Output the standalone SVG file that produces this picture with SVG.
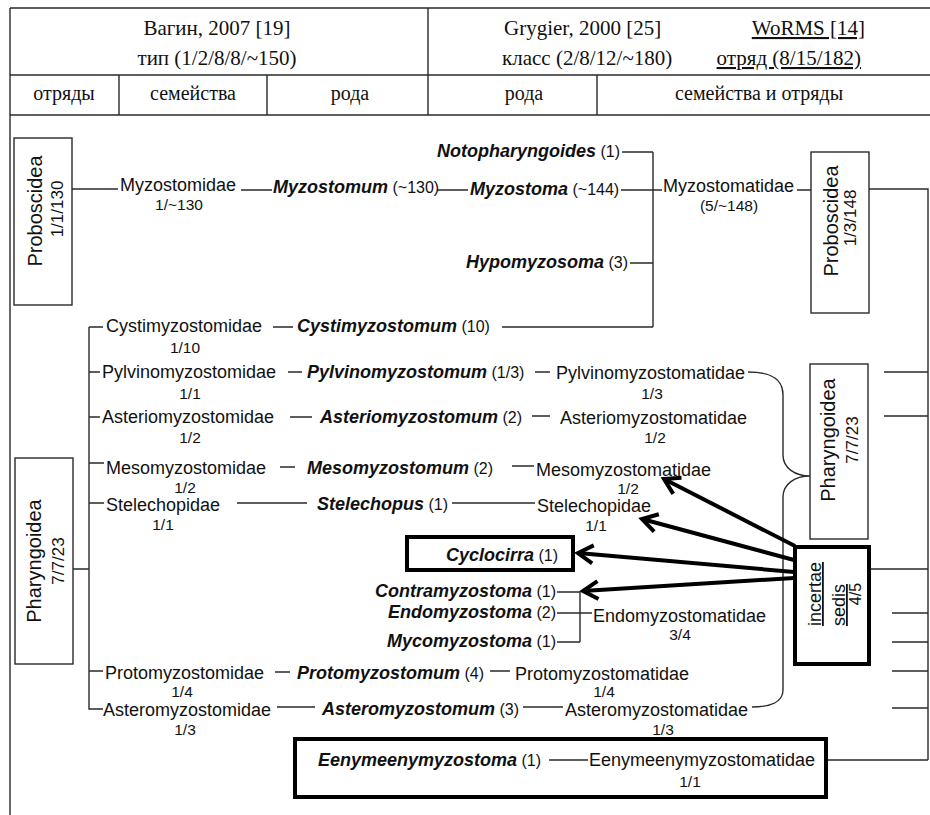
<svg xmlns="http://www.w3.org/2000/svg" width="930" height="815" viewBox="0 0 930 815">
<defs>
<style>
.hd{font-family:"Liberation Serif","Times New Roman",serif;font-size:20px;fill:#111;text-anchor:middle}
.h1{font-size:21px}
.t{font-family:"Liberation Sans",Arial,sans-serif;font-size:18px;fill:#111}
.g{font-weight:bold;font-style:italic}
.c{font-weight:normal;font-style:normal;font-size:16px}
.s{font-family:"Liberation Sans",Arial,sans-serif;font-size:15.5px;fill:#111;text-anchor:middle}
.r{font-family:"Liberation Sans",Arial,sans-serif;font-size:20px;fill:#111;text-anchor:middle}
.r2{font-family:"Liberation Sans",Arial,sans-serif;font-size:17px;fill:#111;text-anchor:middle}
.ln{stroke:#2a2a2a;stroke-width:1.4;fill:none}
.box{stroke:#2a2a2a;stroke-width:1.4;fill:#fff}
.bx{stroke:#000;stroke-width:4;fill:none}
.ar{stroke:#000;stroke-width:4;fill:none;marker-end:url(#ah)}
</style>
<marker id="ah" markerUnits="userSpaceOnUse" viewBox="-20 -15 30 30" markerWidth="30" markerHeight="30" refX="0" refY="0" orient="auto" overflow="visible">
<path d="M -15 -9 L 0 0 L -15 9" fill="none" stroke="#000" stroke-width="4" stroke-linejoin="miter"/>
</marker>
</defs>
<rect width="930" height="815" fill="#fff"/>

<g id="header">
<path class="ln" d="M10 8 H930 M10 75 H930 M10 115 H930 M10 8 V815 M428 8 V115 M119 75 V115 M267 75 V115 M597 75 V115"/>
<text class="hd h1" x="217" y="35">Вагин, 2007 [19]</text>
<text class="hd h1" x="217" y="65">тип (1/2/8/8/~150)</text>
<text class="hd h1" x="504" y="35" style="text-anchor:start">Grygier, 2000 [25]</text>
<text class="hd h1" x="502" y="65" style="text-anchor:start">класс (2/8/12/~180)</text>
<text class="hd h1" x="865" y="35" style="text-anchor:end" text-decoration="underline">WoRMS [14]</text>
<text class="hd h1" x="861" y="65" style="text-anchor:end" text-decoration="underline">отряд (8/15/182)</text>
<text class="hd" x="64" y="100">отряды</text>
<text class="hd" x="193" y="100">семейства</text>
<text class="hd" x="350" y="100">рода</text>
<text class="hd" x="524" y="100">рода</text>
<text class="hd" x="759" y="100">семейства и отряды</text>
</g>

<g id="connectors">
<path class="ln" d="M72 189 H118 M241 190 H272 M437 190 H468 M621 190 H662 M797 190 H811 M869 189 H928 V760 M826 760 H928"/>
<path class="ln" d="M622 152 H653 M630 263 H653 M653 152 V327"/>
<path class="ln" d="M89 327 V709 H103 M73 569 H89"/>
<path class="ln" d="M89 327 H103 M273 327 H293 M502 327 H653"/>
<path class="ln" d="M89 372 H100 M288 372 H302 M535 372 H550"/>
<path class="ln" d="M89 417 H100 M290 417 H312 M532 416 H550"/>
<path class="ln" d="M89 463 H104 M280 467 H295 M512 466 H534"/>
<path class="ln" d="M89 503 H104 M237 503 H307 M452 503 H535"/>
<path class="ln" d="M557 592 H580 M557 613 H592 M557 642 H580 M580 592 V642"/>
<path class="ln" d="M89 671 H103 M275 672 H290 M490 671 H510"/>
<path class="ln" d="M277 707 H315 M523 707 H563"/>
<path class="ln" d="M549 760 H588"/>
<path class="ln" d="M884 372 H928 M884 416 H928 M869 569 H928 M892 613 H928 M892 642 H928 M892 671 H928 M892 708 H928"/>
<path class="ln" d="M748 372 C770 372 783 378 783 395 L783 455 C783 468 795 476 810 476 C795 476 783 484 783 497 L783 690 C783 702 770 707 752 707"/>
<line class="ar" x1="795" y1="546" x2="664" y2="479"/>
<line class="ar" x1="794" y1="560" x2="642" y2="519"/>
<line class="ar" x1="794" y1="572" x2="578" y2="553"/>
<line class="ar" x1="794" y1="578" x2="583" y2="591"/>
</g>

<g id="proboscidea-left">
<rect class="box" x="14" y="138" width="58" height="167"/>
<text class="r" transform="translate(42,211) rotate(-90)">Proboscidea</text>
<text class="r2" transform="translate(63,209) rotate(-90)">1/1/130</text>
</g>
<g id="pharyngoidea-left">
<rect class="box" x="15" y="458" width="58" height="206"/>
<text class="r" transform="translate(41,561) rotate(-90)">Pharyngoidea</text>
<text class="r2" transform="translate(64,561) rotate(-90)">7/7/23</text>
</g>
<g id="proboscidea-right">
<rect class="box" x="811" y="152" width="58" height="161"/>
<text class="r" transform="translate(838,221) rotate(-90)">Proboscidea</text>
<text class="r2" transform="translate(856,218) rotate(-90)">1/3/148</text>
</g>
<g id="pharyngoidea-right">
<rect class="box" x="810" y="364" width="58" height="175"/>
<text class="r" transform="translate(835,440) rotate(-90)">Pharyngoidea</text>
<text class="r2" transform="translate(858,440) rotate(-90)">7/7/23</text>
</g>
<g id="incertae-sedis">
<rect class="bx" x="795" y="547" width="74" height="117" style="fill:#fff"/>
<text class="t" text-anchor="middle" text-decoration="underline" transform="translate(821,594) rotate(-90)">incertae</text>
<text class="t" text-anchor="middle" text-decoration="underline" transform="translate(845,605) rotate(-90)">sedis</text>
<text class="t" text-anchor="middle" transform="translate(861,594) rotate(-90)" style="font-size:16px">4/5</text>
</g>

<g id="myzostomidae"><text class="t" x="120" y="191">Myzostomidae</text><text class="s" x="179" y="210">1/~130</text></g>
<g id="cystimyzostomidae"><text class="t" x="106" y="332">Cystimyzostomidae</text><text class="s" x="185" y="353">1/10</text></g>
<g id="pylvinomyzostomidae"><text class="t" x="102" y="378">Pylvinomyzostomidae</text><text class="s" x="190" y="399">1/1</text></g>
<g id="asteriomyzostomidae"><text class="t" x="102" y="423">Asteriomyzostomidae</text><text class="s" x="190" y="443">1/2</text></g>
<g id="mesomyzostomidae"><text class="t" x="106" y="474">Mesomyzostomidae</text><text class="s" x="185" y="493">1/2</text></g>
<g id="stelechopidae"><text class="t" x="106" y="511">Stelechopidae</text><text class="s" x="163" y="530">1/1</text></g>
<g id="protomyzostomidae"><text class="t" x="105" y="679">Protomyzostomidae</text><text class="s" x="182" y="697">1/4</text></g>
<g id="asteromyzostomidae"><text class="t" x="103" y="716">Asteromyzostomidae</text><text class="s" x="185" y="735">1/3</text></g>

<g id="myzostomum"><text class="t" x="273" y="193"><tspan class="g">Myzostomum</tspan><tspan class="c"> (~130)</tspan></text></g>
<g id="cystimyzostomum"><text class="t" x="297" y="332"><tspan class="g">Cystimyzostomum</tspan><tspan class="c"> (10)</tspan></text></g>
<g id="pylvinomyzostomum"><text class="t" x="307" y="378"><tspan class="g">Pylvinomyzostomum</tspan><tspan class="c"> (1/3)</tspan></text></g>
<g id="asteriomyzostomum"><text class="t" x="320" y="423"><tspan class="g">Asteriomyzostomum</tspan><tspan class="c"> (2)</tspan></text></g>
<g id="mesomyzostomum"><text class="t" x="307" y="474"><tspan class="g">Mesomyzostomum</tspan><tspan class="c"> (2)</tspan></text></g>
<g id="stelechopus"><text class="t" x="317" y="510"><tspan class="g">Stelechopus</tspan><tspan class="c"> (1)</tspan></text></g>
<g id="protomyzostomum"><text class="t" x="297" y="679"><tspan class="g">Protomyzostomum</tspan><tspan class="c"> (4)</tspan></text></g>
<g id="asteromyzostomum"><text class="t" x="322" y="715"><tspan class="g">Asteromyzostomum</tspan><tspan class="c"> (3)</tspan></text></g>

<g id="notopharyngoides"><text class="t" x="620" y="157" text-anchor="end"><tspan class="g">Notopharyngoides</tspan><tspan class="c"> (1)</tspan></text></g>
<g id="myzostoma"><text class="t" x="470" y="195"><tspan class="g">Myzostoma</tspan><tspan class="c"> (~144)</tspan></text></g>
<g id="hypomyzosoma"><text class="t" x="628" y="268" text-anchor="end"><tspan class="g">Hypomyzosoma</tspan><tspan class="c"> (3)</tspan></text></g>
<g id="cyclocirra"><rect class="bx" x="407" y="537" width="166" height="33"/><text class="t" x="558" y="561" text-anchor="end"><tspan class="g">Cyclocirra</tspan><tspan class="c"> (1)</tspan></text></g>
<g id="contramyzostoma"><text class="t" x="556" y="597" text-anchor="end"><tspan class="g">Contramyzostoma</tspan><tspan class="c"> (1)</tspan></text></g>
<g id="endomyzostoma"><text class="t" x="556" y="618" text-anchor="end"><tspan class="g">Endomyzostoma</tspan><tspan class="c"> (2)</tspan></text></g>
<g id="mycomyzostoma"><text class="t" x="556" y="647" text-anchor="end"><tspan class="g">Mycomyzostoma</tspan><tspan class="c"> (1)</tspan></text></g>

<g id="myzostomatidae"><text class="t" x="663" y="192">Myzostomatidae</text><text class="s" x="729" y="211">(5/~148)</text></g>
<g id="pylvinomyzostomatidae"><text class="t" x="556" y="379">Pylvinomyzostomatidae</text><text class="s" x="652" y="399">1/3</text></g>
<g id="asteriomyzostomatidae"><text class="t" x="560" y="424">Asteriomyzostomatidae</text><text class="s" x="655" y="443">1/2</text></g>
<g id="mesomyzostomatidae"><text class="t" x="536" y="476">Mesomyzostomatidae</text><text class="s" x="628" y="494">1/2</text></g>
<g id="stelechopidae-w"><text class="t" x="537" y="512">Stelechopidae</text><text class="s" x="596" y="531">1/1</text></g>
<g id="endomyzostomatidae"><text class="t" x="593" y="622">Endomyzostomatidae</text><text class="s" x="680" y="640">3/4</text></g>
<g id="protomyzostomatidae"><text class="t" x="515" y="680">Protomyzostomatidae</text><text class="s" x="604" y="697">1/4</text></g>
<g id="asteromyzostomatidae"><text class="t" x="565" y="716">Asteromyzostomatidae</text><text class="s" x="663" y="735">1/3</text></g>

<g id="eenymeeny">
<rect class="bx" x="295" y="739" width="531" height="58"/>
<text class="t" x="318" y="766"><tspan class="g">Eenymeenymyzostoma</tspan><tspan class="c"> (1)</tspan></text>
<text class="t" x="589" y="766">Eenymeenymyzostomatidae</text>
<text class="s" x="690" y="787">1/1</text>
</g>
</svg>
